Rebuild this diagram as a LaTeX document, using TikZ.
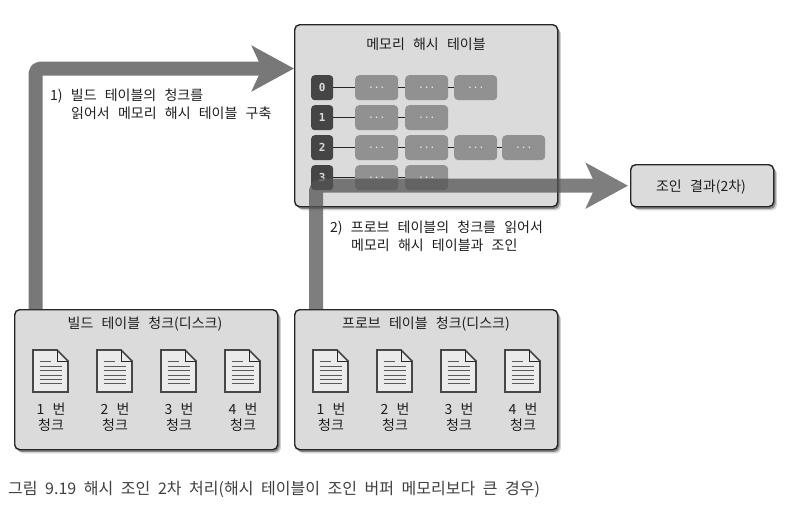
\documentclass[tikz,border=0pt]{standalone}
\usepackage{fontspec}
\setmainfont{Noto Sans CJK KR}
\newfontfamily\diag{Noto Sans CJK KR}
\newfontfamily\capfont{Noto Sans CJK KR}
\newfontfamily\monofont{DejaVu Sans Mono}
\newfontfamily\dotfont{Liberation Mono}
\newcommand{\lblfont}{\diag\fontsize{14}{18}\selectfont\spaceskip 8.2pt\relax}
\newcommand{\midfont}{\diag\fontsize{14}{16}\selectfont\spaceskip 8.2pt\relax}
\newcommand{\captionfont}{\capfont\fontsize{16}{18}\selectfont\spaceskip 7.6pt\relax}
\usetikzlibrary{arrows.meta,shadows}
\definecolor{panel}{gray}{0.86}
\definecolor{ink}{gray}{0.15}
\definecolor{txt}{gray}{0.12}
\definecolor{flow}{gray}{0.47}
\definecolor{flowdark}{gray}{0.33}
\tikzset{
  x=1pt,y=1pt,
  panelbox/.style={draw=ink,line width=1.4pt,fill=panel,rounded corners=5pt,inner sep=0pt,anchor=north west,
    drop shadow={shadow xshift=3.2pt,shadow yshift=-3.6pt,fill=black,opacity=0.18},
    drop shadow={shadow xshift=1.8pt,shadow yshift=-2.2pt,fill=black,opacity=0.35}},
  idxbox/.style={fill=black!73,draw=none,rounded corners=3.5pt,minimum width=22pt,minimum height=25pt,inner sep=0pt,anchor=north west,text=white!85!black,font=\monofont\bfseries\fontsize{11}{12}\selectfont},
  cellbox/.style={fill=black!43,draw=none,rounded corners=4pt,minimum width=43pt,minimum height=25pt,inner sep=0pt,anchor=north west,text=white!90!black,font=\dotfont\bfseries\fontsize{9.5}{11}\selectfont},
  link/.style={draw=ink,line width=0.9pt},
  flowarrow/.style={line width=14pt,rounded corners=5pt,line join=round,
    -{Stealth[length=42pt,width=45pt,inset=10pt]}},
  lbl/.style={text=txt,font=\lblfont,inner sep=0pt,align=left},
  midlbl/.style={text=txt,font=\midfont,inner sep=0pt,align=center},
}
\newcommand{\docicon}[2]{%
  \begin{scope}[shift={(#1,#2)}]
    \fill[white!92!black] (0,0) -- (24,0) -- (35,-11) -- (35,-42) -- (0,-42) -- cycle;
    \draw[ink!85!white,line width=1.6pt,line join=miter] (0,0) -- (24,0) -- (35,-11) -- (35,-42) -- (0,-42) -- cycle;
    \draw[ink,line width=0.8pt] (24,0) -- (24,-11) -- (35,-11);
    \draw[gray!70!black,line width=1pt]
      (7,-11) -- (18,-11) (7,-16) -- (29,-16) (7,-20.5) -- (29,-20.5) (7,-25) -- (29,-25)
      (7,-29.5) -- (29,-29.5) (7,-33.5) -- (29,-33.5);
  \end{scope}}
\begin{document}
\begin{tikzpicture}
\useasboundingbox (0,0) rectangle (785,-507);
\fill[white] (0,0) rectangle (785,-507);

% panels
\node[panelbox,minimum width=263pt,minimum height=182pt] (mem) at (294,-24) {};
\node[panelbox,minimum width=263pt,minimum height=140pt] (build) at (14,-309) {};
\node[panelbox,minimum width=263pt,minimum height=140pt] (probe) at (294,-309) {};
\node[panelbox,minimum width=143pt,minimum height=42pt] (result) at (630,-164) {};

\node[midlbl] (memt) at (426,-44) {메모리 해시 테이블};
\node[midlbl] (buildt) at (145,-324.5) {빌드 테이블 청크(디스크)};
\node[midlbl] (probet) at (426,-324.5) {프로브 테이블 청크(디스크)};
\node[midlbl] (rest) at (701,-187) {조인 결과(2차)};

% hash table rows
\foreach \r/\y in {0/-75,1/-105,2/-135,3/-165}{
  \node[idxbox] (i\r) at (311,\y) {\r};
}
\foreach \n/\x/\y in {a0/355/-75,b0/405/-75,c0/454/-75,
                      a1/355/-105,b1/405/-105,
                      a2/355/-135,b2/405/-135,c2/454/-135,d2/502/-135,
                      a3/355/-165,b3/405/-165}{
  \node[cellbox] (\n) at (\x,\y) {...};
}
\draw[link] (i0) -- (a0) (a0) -- (b0) (b0) -- (c0);
\draw[link] (i1) -- (a1) (a1) -- (b1);
\draw[link] (i2) -- (a2) (a2) -- (b2) (b2) -- (c2) (c2) -- (d2);
\draw[link] (i3) -- (a3) (a3) -- (b3);

% arrows
\draw[flowarrow,draw=flow] ([xshift=21.5pt]build.north west) |- ([yshift=-44.5pt]mem.north west);
\begin{scope}[transparency group,opacity=0.75]
\draw[flowarrow,draw=flowdark] ([xshift=22pt]probe.north west) |- ([xshift=-2pt]result.west);
\end{scope}

% labels
\node[lbl,anchor=north west] (l1) at (50,-88.5) {1) 빌드 테이블의 청크를\\\hspace*{21pt}읽어서 메모리 해시 테이블 구축};
\node[lbl,anchor=north west] (l2) at (330,-220.5) {2) 프로브 테이블의 청크를 읽어서\\\hspace*{21pt}메모리 해시 테이블과 조인};

% documents
\foreach \p/\ox in {b/0,p/280}{
  \foreach \k/\x in {1/33,2/97,3/161,4/225}{
    \docicon{\x+\ox}{-350}
    \node[midlbl] (\p t\k) at (\x+\ox+18,-417) {\k{} 번\\청크};
  }
}

\node[anchor=west,inner sep=0pt,text=gray!50!black,font=\captionfont] (caption) at (8,-489) {그림 9.19 해시 조인 2차 처리(해시 테이블이 조인 버퍼 메모리보다 큰 경우)};
\end{tikzpicture}
\end{document}
